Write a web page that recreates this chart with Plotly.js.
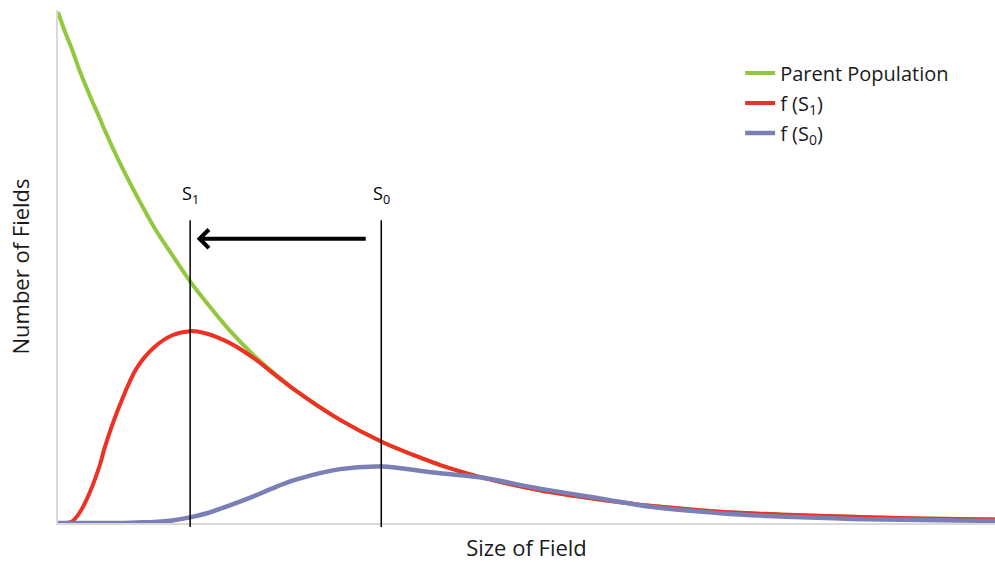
<!DOCTYPE html>
<html>
<head>
<meta charset="utf-8">
<script src="https://cdn.plot.ly/plotly-3.0.1.min.js"></script>
<style>html,body{margin:0;padding:0;background:#fff;}#chart{width:995px;height:562px;}</style>
</head>
<body>
<div id="chart"></div>
<script>
// Size of field (arbitrary units 0-100)
const sizes = [0, 0.8, 1.5, 2.3, 3.4, 4.5, 5, 6.6, 8.4, 10.3, 12.2, 14.1, 15.7, 18.1, 21, 22.8, 25.3, 30.1, 34.6, 39, 40.8, 45, 51.4, 57.8, 63.5, 70.7, 77.8, 84.8, 92, 100];
// Number of fields (arbitrary units 0-100)
const parentPop = [99.6, 95.5, 92.3, 88.2, 83.3, 78.7, 76.5, 70.2, 63.8, 57.5, 52.2, 47.1, 43.3, 38.0, 32.5, 29.6, 25.9, 20.1, 15.8, 12.5, 11.3, 9.0, 6.4, 4.6, 3.3, 2.2, 1.6, 1.2, 0.9, 0.7];
const fS1 = [0, 0, 0.3, 2.0, 6.0, 11.5, 14.8, 23.0, 30.2, 34.3, 36.6, 37.4, 37.0, 35.3, 32.0, 29.4, 25.9, 20.1, 15.8, 12.5, 11.3, 9.0, 6.4, 4.6, 3.3, 2.2, 1.6, 1.2, 0.9, 0.7];
const fS0 = [0, 0, 0, 0, 0, 0, 0, 0, 0.1, 0.2, 0.5, 1.1, 1.8, 3.3, 5.3, 6.7, 8.4, 10.5, 11.0, 10.1, 9.7, 8.9, 6.7, 4.8, 3.1, 1.9, 1.2, 0.8, 0.6, 0.4];
const seriesNames = ["Parent Population", "f (S<sub>1</sub>)", "f (S<sub>0</sub>)"];
const thresholdS1 = 14.1;
const thresholdS0 = 34.5;
const thresholdLabels = ["S<sub>1</sub>", "S<sub>0</sub>"];
const arrowLevel = 55.4;
const arrowFrom = 33.0;
const arrowTo = 14.8;

const FONT = "Open Sans, Noto Sans, sans-serif";
const colors = ["#92c83e", "#ee3124", "#7a7fb5"];

const traces = [parentPop, fS1, fS0].map((v, i) => ({
  x: sizes, y: v, type: "scatter", mode: "lines",
  name: seriesNames[i], legendgroup: "g" + i,
  line: {color: colors[i], width: i === 2 ? 4.5 : 4, shape: "spline", smoothing: 1},
  hoverinfo: "skip"
}));

const layout = {
  width: 995, height: 562,
  margin: {l: 58, r: 0, t: 10, b: 39},
  paper_bgcolor: "#fff", plot_bgcolor: "#fff",
  font: {family: FONT, color: "#1a1a1a"},
  showlegend: true,
  legend: {x: 0.728, y: 0.915, xanchor: "left", yanchor: "top", traceorder: "grouped",
           tracegroupgap: 1, font: {size: 20, family: FONT, color: "#1a1a1a"},
           bgcolor: "rgba(0,0,0,0)"},
  xaxis: {range: [0, 100], showline: true, linecolor: "#d9d9d9", linewidth: 2,
          showticklabels: false, ticks: "", showgrid: false, zeroline: false, fixedrange: true,
          title: {text: "Size of Field", font: {size: 22, family: FONT, color: "#1a1a1a"}, standoff: 17}},
  yaxis: {range: [0, 100], showline: true, linecolor: "#d9d9d9", linewidth: 2,
          showticklabels: false, ticks: "", showgrid: false, zeroline: false, fixedrange: true,
          title: {text: "Number of Fields", font: {size: 22, family: FONT, color: "#1a1a1a"}, standoff: 20}},
  shapes: [thresholdS1, thresholdS0].map(xv => ({
    type: "line", xref: "x", yref: "paper", x0: xv, x1: xv, y0: -0.008, y1: 0.59,
    line: {color: "#000", width: 1.5}
  })),
  annotations: [
    {x: thresholdS1, y: 0.61, xref: "x", yref: "paper", text: thresholdLabels[0], showarrow: false,
     xanchor: "center", yanchor: "bottom", font: {size: 18, family: FONT, color: "#000"}},
    {x: thresholdS0, y: 0.61, xref: "x", yref: "paper", text: thresholdLabels[1], showarrow: false,
     xanchor: "center", yanchor: "bottom", font: {size: 18, family: FONT, color: "#000"}},
    {x: arrowTo, y: arrowLevel, ax: arrowFrom, ay: arrowLevel, xref: "x", yref: "y", axref: "x", ayref: "y",
     text: "", showarrow: true, arrowhead: 4, arrowsize: 0.9, arrowwidth: 4, arrowcolor: "#000", standoff: 0}
  ]
};

Plotly.newPlot("chart", traces, layout, {displayModeBar: false, staticPlot: true});
</script>
</body>
</html>
